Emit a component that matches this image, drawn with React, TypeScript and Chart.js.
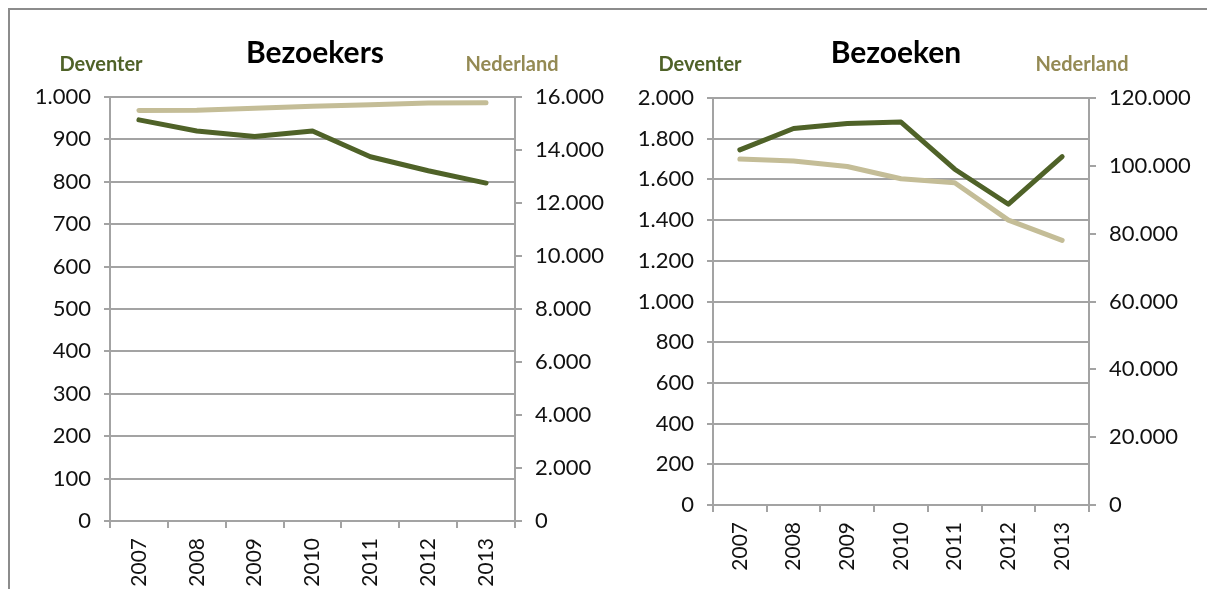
import React, { useEffect, useRef } from 'react';
import { Chart, registerables } from 'chart.js';

Chart.register(...registerables);

const years = ['2007', '2008', '2009', '2010', '2011', '2012', '2013'];

const bezoekersDeventer = [946, 920, 907, 920, 859, 826, 797];
const bezoekersNederland = [15490, 15500, 15580, 15650, 15710, 15770, 15780];

const bezoekenDeventer = [1745, 1850, 1875, 1882, 1650, 1478, 1712];
const bezoekenNederland = [102000, 101400, 99800, 96200, 95000, 84000, 78000];

const titles = ['Bezoekers', 'Bezoeken'];
const seriesNames = ['Deventer', 'Nederland'];

const FONT = 'Lato, "Open Sans", sans-serif';
const GRID = '#a3a3a3';
const DEV_COLOR = '#4F6228';
const NED_COLOR = '#C4BD97';

const fmt = (v: number | string) =>
  String(v).replace(/\B(?=(\d{3})+(?!\d))/g, '.');

interface Spec {
  title: string;
  dev: number[];
  ned: number[];
  leftMax: number;
  leftStep: number;
  rightMax: number;
  rightStep: number;
  lw: number;
  rw: number;
  top: number;
  xh: number;
  devX: number;
  titleX: number;
  nedX: number;
}

function makeConfig(s: Spec): any {
  const textPlugin = {
    id: 'texts',
    afterDraw(chart: any) {
      const ctx = chart.ctx;
      ctx.save();
      ctx.textAlign = 'center';
      ctx.textBaseline = 'alphabetic';
      ctx.font = `bold 20px ${FONT}`;
      ctx.fillStyle = DEV_COLOR;
      ctx.fillText(seriesNames[0], s.devX, 71);
      ctx.fillStyle = '#948A54';
      ctx.fillText(seriesNames[1], s.nedX, 71);
      ctx.font = `bold 30px ${FONT}`;
      ctx.fillStyle = '#000';
      ctx.fillText(s.title, s.titleX, 63);
      ctx.restore();
    },
  };
  const tickFont = { family: FONT, size: 22 };
  return {
    type: 'line',
    data: {
      labels: years,
      datasets: [
        {
          label: seriesNames[0],
          data: s.dev,
          yAxisID: 'y',
          borderColor: DEV_COLOR,
          backgroundColor: DEV_COLOR,
          borderWidth: 5,
          pointRadius: 0,
          tension: 0,
          borderCapStyle: 'round',
          borderJoinStyle: 'round',
        },
        {
          label: seriesNames[1],
          data: s.ned,
          yAxisID: 'y1',
          borderColor: NED_COLOR,
          backgroundColor: NED_COLOR,
          borderWidth: 5,
          pointRadius: 0,
          tension: 0,
          borderCapStyle: 'round',
          borderJoinStyle: 'round',
        },
      ],
    },
    options: {
      animation: false,
      responsive: false,
      maintainAspectRatio: false,
      layout: { padding: { top: s.top, left: 0, right: 0, bottom: 0 } },
      plugins: { legend: { display: false }, tooltip: { enabled: false }, title: { display: false } },
      scales: {
        x: {
          offset: true,
          grid: { offset: true, drawOnChartArea: false, drawTicks: true, tickLength: 7, color: GRID, lineWidth: 2 },
          border: { color: GRID, width: 2 },
          ticks: { minRotation: 90, maxRotation: 90, autoSkip: false, font: { family: FONT, size: 21 }, color: '#111', padding: 10 },
          afterFit: (sc: any) => { sc.height = s.xh; },
        },
        y: {
          position: 'left',
          min: 0,
          max: s.leftMax,
          ticks: { stepSize: s.leftStep, callback: (v: any) => fmt(v), font: tickFont, color: '#111', padding: 13 },
          grid: { color: GRID, lineWidth: 2, tickLength: 6 },
          border: { color: GRID, width: 2 },
          afterFit: (sc: any) => { sc.width = s.lw; },
        },
        y1: {
          position: 'right',
          min: 0,
          max: s.rightMax,
          ticks: { stepSize: s.rightStep, callback: (v: any) => fmt(v), font: tickFont, color: '#111', padding: 13 },
          grid: { drawOnChartArea: false, color: GRID, lineWidth: 2, tickLength: 7 },
          border: { color: GRID, width: 2 },
          afterFit: (sc: any) => { sc.width = s.rw; },
        },
      },
    },
    plugins: [textPlugin],
  };
}

function ChartBox({ spec, left, width }: { spec: Spec; left: number; width: number }) {
  const ref = useRef<HTMLCanvasElement | null>(null);
  useEffect(() => {
    if (!ref.current) return;
    const chart = new Chart(ref.current, makeConfig(spec));
    return () => chart.destroy();
  }, []);
  return (
    <canvas
      ref={ref}
      width={width}
      height={589}
      style={{ position: 'absolute', left, top: 0, width, height: 589 }}
    />
  );
}

const specA: Spec = {
  title: titles[0],
  dev: bezoekersDeventer,
  ned: bezoekersNederland,
  leftMax: 1000,
  leftStep: 100,
  rightMax: 16000,
  rightStep: 2000,
  lw: 110,
  rw: 110,
  top: 97,
  xh: 68,
  devX: 101,
  titleX: 315,
  nedX: 512,
};

const specB: Spec = {
  title: titles[1],
  dev: bezoekenDeventer,
  ned: bezoekenNederland,
  leftMax: 2000,
  leftStep: 200,
  rightMax: 120000,
  rightStep: 20000,
  lw: 113,
  rw: 118,
  top: 98,
  xh: 84,
  devX: 100,
  titleX: 296,
  nedX: 482,
};

export default function App() {
  return (
    <div style={{ position: 'absolute', left: 0, top: 0, width: 1207, height: 589, overflow: 'hidden', background: '#fff' }}>
      <div
        style={{
          position: 'absolute',
          left: 8,
          top: 8,
          width: 1300,
          height: 700,
          borderTop: '2px solid #8c8c8c',
          borderLeft: '2px solid #8c8c8c',
        }}
      />
      <ChartBox spec={specA} left={0} width={625} />
      <ChartBox spec={specB} left={600} width={607} />
    </div>
  );
}
